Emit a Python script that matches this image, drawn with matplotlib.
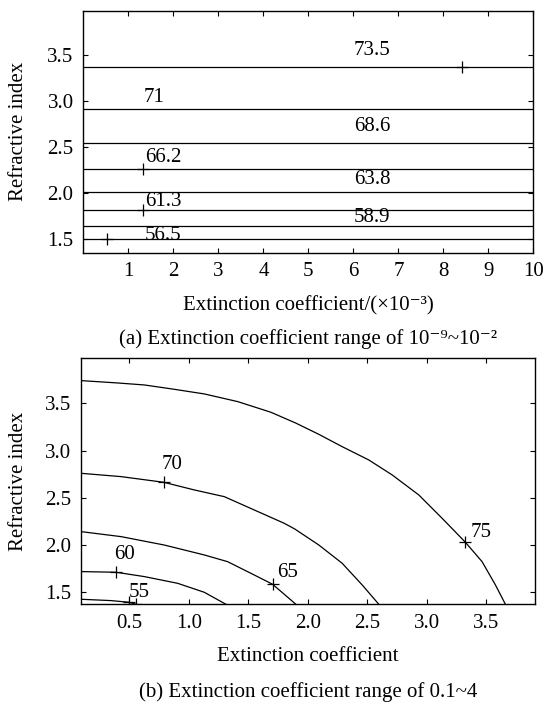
import matplotlib.pyplot as plt
import numpy as np

plt.rcParams['font.family'] = ['Liberation Serif', 'DejaVu Serif']
plt.rcParams['font.size'] = 15

# (a) горизонтальные изолинии, показатель преломления n для каждого уровня
lvl_a = ['73.5', '71', '68.6', '66.2', '63.8', '61.3', '58.9', '56.5']
n_a = [3.376, 2.92, 2.543, 2.264, 2.018, 1.815, 1.645, 1.504]
lab_x_a = [6.41, 1.57, 6.41, 1.78, 6.41, 1.78, 6.41, 1.78]
lab_y_a = [3.55, 3.043, 2.724, 2.39, 2.155, 1.916, 1.739, 1.547]
mark_x_a = [8.42, 1.33, 1.33, 0.53]
mark_y_a = [3.376, 2.264, 1.815, 1.504]

# (b) изолинии, точки
k75 = [0.094, 0.402, 0.626, 0.878, 1.130, 1.41, 1.69, 1.90, 2.092, 2.289, 2.513,
       2.709, 2.933, 3.129, 3.325, 3.465, 3.577, 3.661]
n75 = [3.74, 3.715, 3.694, 3.648, 3.599, 3.518, 3.405, 3.29, 3.172, 3.041, 2.90,
       2.742, 2.53, 2.283, 2.029, 1.824, 1.578, 1.373]
k70 = [0.094, 0.43, 0.789, 1.046, 1.298, 1.55, 1.802, 1.89, 2.092, 2.289, 2.457, 2.597]
n70 = [2.759, 2.724, 2.664, 2.583, 2.512, 2.371, 2.23, 2.17, 2.001, 1.807, 1.578, 1.373]
k65 = [0.094, 0.43, 0.794, 1.13, 1.326, 1.55, 1.704, 1.802, 1.90]
n65 = [2.142, 2.089, 2.0, 1.895, 1.824, 1.683, 1.585, 1.479, 1.373]
k60 = [0.094, 0.388, 0.626, 0.906, 1.13, 1.312]
n60 = [1.719, 1.712, 1.666, 1.595, 1.50, 1.373]
k55 = [0.094, 0.346, 0.50, 0.556]
n55 = [1.426, 1.412, 1.394, 1.373]

lvl_b = ['75', '70', '65', '60', '55']
lab_x_b = [3.459, 0.859, 1.83, 0.458, 0.584]
lab_y_b = [2.135, 2.847, 1.712, 1.895, 1.50]
mark_x_b = [3.325, 0.789, 1.704, 0.388, 0.50, 0.556]
mark_y_b = [2.029, 2.664, 1.585, 1.712, 1.394, 1.376]

fig = plt.figure(figsize=(5.46, 7.02), dpi=100)
ax1 = fig.add_axes([0.1526, 0.640, 0.8245, 0.3447])
ax2 = fig.add_axes([0.1484, 0.1392, 0.8315, 0.3504])

ax1.hlines(n_a, 0, 10, color='black', lw=0.9)
for t, x, y in zip(lvl_a, lab_x_a, lab_y_a):
    ax1.text(x, y, t, ha='center', va='center')
ax1.plot(mark_x_a, mark_y_a, '+', color='black', ms=8, mew=0.9)
ax1.set_xlim(0, 10); ax1.set_ylim(1.355, 3.985)
ax1.set_xticks(range(1, 11))
ax1.set_yticks([1.5, 2.0, 2.5, 3.0, 3.5])
ax1.set_yticklabels(['1.5', '2.0', '2.5', '3.0', '3.5'])
ax1.set_ylabel('Refractive index', va='center')
ax1.yaxis.set_label_coords(-0.1444, 0.5)
ax1.set_xlabel('Extinction coefficient/(×10⁻³)', va='center')
ax1.xaxis.set_label_coords(0.5, -0.220)

for k, n in [(k75, n75), (k70, n70), (k65, n65), (k60, n60), (k55, n55)]:
    ax2.plot(k, n, color='black', lw=0.9)
for t, x, y in zip(lvl_b, lab_x_b, lab_y_b):
    ax2.text(x, y, t, ha='center', va='center')
ax2.plot(mark_x_b, mark_y_b, '+', color='black', ms=8, mew=0.9)
ax2.set_xlim(0.094, 3.91); ax2.set_ylim(1.373, 3.976)
ax2.set_xticks([0.5, 1.0, 1.5, 2.0, 2.5, 3.0, 3.5])
ax2.set_yticks([1.5, 2.0, 2.5, 3.0, 3.5])
ax2.set_ylabel('Refractive index', va='center')
ax2.yaxis.set_label_coords(-0.138, 0.5)
ax2.set_xlabel('Extinction coefficient', va='center')
ax2.xaxis.set_label_coords(0.5, -0.213)

for ax in (ax1, ax2):
    ax.tick_params(direction='in', top=True, right=True, length=3.6, width=0.8, pad=7)
    for s in ax.spines.values():
        s.set_linewidth(1.0)

fig.text(308.4 / 546, 1 - 339.5 / 702, '(a) Extinction coefficient range of 10⁻⁹~10⁻²', ha='center', va='center')
fig.text(308 / 546, 1 - 691.7 / 702, '(b) Extinction coefficient range of 0.1~4', ha='center', va='center')

plt.savefig('out.png', dpi=100)
